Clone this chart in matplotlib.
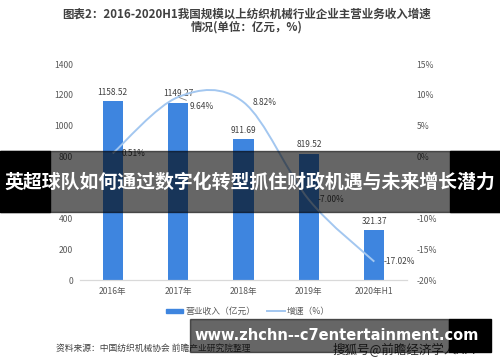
import matplotlib.pyplot as plt
from matplotlib.path import Path
from matplotlib.patches import PathPatch, Rectangle
from matplotlib.ticker import FuncFormatter

plt.rcParams['font.family'] = ['Noto Sans CJK SC', 'DejaVu Sans']

years = ["2016年", "2017年", "2018年", "2019年", "2020年H1"]
revenue = [1158.52, 1149.27, 911.69, 819.52, 321.37]
growth = [0.51, 9.64, 8.82, -7.00, -17.02]

bar_color = "#3E85DF"
line_color = "#A3C7F0"
text_gray = "#595959"

fig = plt.figure(figsize=(5, 3.62), dpi=100)
ax = fig.add_axes([0.16, 0.2265, 0.654, 0.5967])
ax2 = ax.twinx()

x = list(range(len(years)))
ax.bar(x, revenue, width=0.31, color=bar_color, zorder=2)
ax.set_xlim(-0.5, 4.5)
ax.set_ylim(0, 1400)
ax.set_yticks(range(0, 1401, 200))
# the 600 label sits under the banner text in the reference
ax.yaxis.set_major_formatter(FuncFormatter(lambda v, p: "" if v == 600 else f"{v:.0f}"))
ax.set_xticks(x)
ax.set_xticklabels(years)

for xi, v in zip(x, revenue):
    ax.annotate(f"{v:.2f}", (xi, v), xytext=(0, 6.5), textcoords="offset points",
                ha="center", va="center", fontsize=6, color="#404040")

# smoothed growth line (Catmull-Rom -> cubic Bezier)
pts = list(zip(x, growth))
verts = [pts[0]]
codes = [Path.MOVETO]
n = len(pts)
for i in range(n - 1):
    p0 = pts[i - 1] if i > 0 else pts[i]
    p1 = pts[i]
    p2 = pts[i + 1]
    p3 = pts[i + 2] if i + 2 < n else pts[i + 1]
    c1 = (p1[0] + (p2[0] - p0[0]) / 6, p1[1] + (p2[1] - p0[1]) / 6)
    c2 = (p2[0] - (p3[0] - p1[0]) / 6, p2[1] - (p3[1] - p1[1]) / 6)
    verts += [c1, c2, p2]
    codes += [Path.CURVE4] * 3
ax2.add_patch(PathPatch(Path(verts, codes), facecolor="none", edgecolor=line_color,
                        lw=1.4, zorder=3))
ax2.set_ylim(-20, 15)
ax2.set_yticks(range(-20, 16, 5))
ax2.yaxis.set_major_formatter(FuncFormatter(lambda v, p: "" if v == -5 else f"{v:.0f}%"))

for i, (xi, g) in enumerate(zip(x, growth)):
    if i == 1:
        ax2.annotate(f"{g:.2f}%", (xi, g), xytext=(8, -6.5), textcoords="offset points",
                     ha="left", va="center", fontsize=6, color="#404040",
                     arrowprops=dict(arrowstyle="-", color="#808080", lw=0.6,
                                     shrinkA=0, shrinkB=1))
    else:
        ax2.annotate(f"{g:.2f}%", (xi, g), xytext=(6.5, 0), textcoords="offset points",
                     ha="left", va="center", fontsize=6, color="#404040")

for a in (ax, ax2):
    for s in ("top", "left", "right"):
        a.spines[s].set_visible(False)
    a.spines["bottom"].set_color("#D9D9D9")
    a.tick_params(length=0, labelsize=6.2, labelcolor=text_gray)
ax.tick_params(axis="y", pad=5)
ax.tick_params(axis="x", pad=5)
ax2.tick_params(axis="y", pad=7)

fig.text(0.494, 0.962, "图表2：2016-2020H1我国规模以上纺织机械行业企业主营业务收入增速",
         ha="center", va="center", fontsize=8.3, fontweight="bold", color="#404040")
fig.text(0.494, 0.925, "情况(单位：亿元，%)",
         ha="center", va="center", fontsize=8.3, fontweight="bold", color="#404040")

# legend
fig.patches.append(Rectangle((0.332, 1 - 313 / 362), 0.034, 0.012, transform=fig.transFigure,
                             color=bar_color))
fig.text(0.37, 1 - 311 / 362, "营业收入（亿元）", ha="left", va="center", fontsize=6.3,
         color=text_gray)
fig.lines.append(plt.Line2D([0.534, 0.57], [1 - 311 / 362] * 2, transform=fig.transFigure,
                            color=line_color, lw=1.4))
fig.text(0.574, 1 - 311 / 362, "增速（%）", ha="left", va="center", fontsize=6.3,
         color=text_gray)

fig.text(0.112, 1 - 348 / 362, "资料来源：中国纺织机械协会 前瞻产业研究院整理", ha="left",
         va="center", fontsize=6.3, color="#404040")
fig.text(0.665, 1 - 350 / 362, "搜狐号@前瞻经济学人APP", ha="left", va="center",
         fontsize=9, color="#333333")

# overlay banners
fig.patches.append(Rectangle((0, 1 - 212 / 362), 1, 61 / 362, transform=fig.transFigure,
                             color="black", alpha=0.6, zorder=10))
fig.patches.append(Rectangle((0, 1 - 212 / 362), 0.1, 61 / 362, transform=fig.transFigure,
                             color="black", zorder=10))
fig.patches.append(Rectangle((0.9, 1 - 212 / 362), 0.1, 61 / 362, transform=fig.transFigure,
                             color="black", zorder=10))
fig.text(0.5, 1 - 182 / 362, "英超球队如何通过数字化转型抓住财政机遇与未来增长潜力",
         ha="center", va="center", fontsize=13.6, fontweight="bold", color="white", zorder=11)

fig.patches.append(Rectangle((0.38, 1 - 352 / 362), 0.518, 33 / 362, transform=fig.transFigure,
                             color="black", alpha=0.6, zorder=10))
fig.patches.append(Rectangle((0.898, 1 - 352 / 362), 0.084, 33 / 362, transform=fig.transFigure,
                             color="black", zorder=10))
fig.text(0.674, 1 - 336 / 362, "www.zhchn--c7entertainment.com", ha="center", va="center",
         fontsize=10.5, fontweight="bold", color="white", family="DejaVu Sans", zorder=11)

fig.savefig("out.png", dpi=100)
